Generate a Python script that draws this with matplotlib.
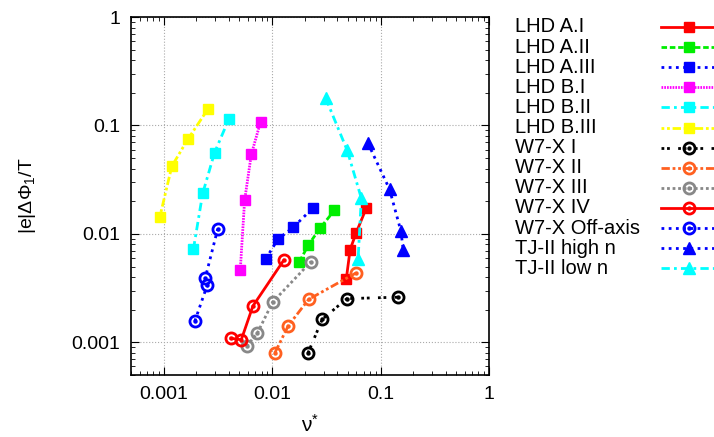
import numpy as np
import matplotlib

matplotlib.use("Agg")
import matplotlib.pyplot as plt
from matplotlib.lines import Line2D

plt.rcParams["font.family"] = ["Liberation Sans", "DejaVu Sans"]
plt.rcParams["mathtext.fontset"] = "custom"
plt.rcParams["mathtext.rm"] = "Liberation Sans"
plt.rcParams["mathtext.it"] = "Liberation Sans"

# values (nu*, |e|dPhi1/T)
lhd_a1_x = [0.0483, 0.0524, 0.0597, 0.0738]
lhd_a1_y = [0.00383, 0.00716, 0.01028, 0.01726]
lhd_a2_x = [0.01787, 0.0216, 0.0276, 0.0375]
lhd_a2_y = [0.00555, 0.00789, 0.01127, 0.01644]
lhd_a3_x = [0.00871, 0.01135, 0.01567, 0.0240]
lhd_a3_y = [0.00586, 0.00896, 0.0115, 0.0175]
lhd_b1_x = [0.00509, 0.00558, 0.00643, 0.00783]
lhd_b1_y = [0.00468, 0.0204, 0.054, 0.108]
lhd_b2_x = [0.00188, 0.00229, 0.00295, 0.0040]
lhd_b2_y = [0.0072, 0.0236, 0.0563, 0.115]
lhd_b3_x = [0.00092, 0.00119, 0.00168, 0.00256]
lhd_b3_y = [0.0142, 0.0421, 0.0752, 0.1414]
w7x_1_x = [0.0214, 0.0290, 0.0489, 0.1455]
w7x_1_y = [0.000795, 0.00163, 0.00253, 0.00261]
w7x_2_x = [0.01062, 0.0141, 0.0217, 0.0591]
w7x_2_y = [0.000802, 0.001423, 0.00249, 0.00435]
w7x_3_x = [0.00582, 0.00731, 0.01012, 0.02265]
w7x_3_y = [0.000922, 0.001216, 0.00235, 0.00550]
w7x_4_x = [0.00417, 0.0052, 0.00665, 0.01277]
w7x_4_y = [0.00109, 0.001057, 0.00216, 0.0057]
w7x_off_x = [0.00194, 0.00253, 0.00242, 0.00315]
w7x_off_y = [0.00157, 0.0034, 0.00392, 0.0111]
tj2_high_x = [0.0763, 0.121, 0.154, 0.162]
tj2_high_y = [0.069, 0.0258, 0.01063, 0.00706]
tj2_low_x = [0.0311, 0.0493, 0.0665, 0.0621]
tj2_low_y = [0.180, 0.0588, 0.0213, 0.00589]

labels = ["LHD A.I", "LHD A.II", "LHD A.III", "LHD B.I", "LHD B.II", "LHD B.III",
          "W7-X I", "W7-X II", "W7-X III", "W7-X IV", "W7-X Off-axis",
          "TJ-II high n", "TJ-II low n"]
xs = [lhd_a1_x, lhd_a2_x, lhd_a3_x, lhd_b1_x, lhd_b2_x, lhd_b3_x,
      w7x_1_x, w7x_2_x, w7x_3_x, w7x_4_x, w7x_off_x, tj2_high_x, tj2_low_x]
ys = [lhd_a1_y, lhd_a2_y, lhd_a3_y, lhd_b1_y, lhd_b2_y, lhd_b3_y,
      w7x_1_y, w7x_2_y, w7x_3_y, w7x_4_y, w7x_off_y, tj2_high_y, tj2_low_y]

dotted = (0, (1, 1.6))
dashdot = (0, (3, 1.5, 1, 1.5))
styles = [
    ("#ff0000", "-", "s"),
    ("#00ee00", (0, (2, 1)), "s"),
    ("#0000ff", dotted, "s"),
    ("#ff00ff", (0, (0.6, 0.4)), "s"),
    ("#00ffff", dashdot, "s"),
    ("#ffff00", (0, (1, 1, 1, 1, 3, 1)), "s"),
    ("#000000", (0, (1, 1, 1, 3)), "o"),
    ("#ff6020", (0, (3, 1, 1, 1, 1, 1)), "o"),
    ("#888888", (0, (1, 1)), "o"),
    ("#ff0000", "-", "o"),
    ("#0000ff", dotted, "o"),
    ("#0000ff", dotted, "^"),
    ("#00ffff", dashdot, "^"),
]


def marker_kw(color, mk):
    if mk == "o":
        return dict(marker="o", ms=8, mfc="none", mec=color, mew=2)
    return dict(marker=mk, ms=7 if mk == "s" else 9, mfc=color, mec=color)


fig = plt.figure(figsize=(7.14, 4.37), dpi=100)
ax = fig.add_axes([131 / 714, 1 - 375 / 437, 358 / 714, 358 / 437])

for x, y, (color, ls, mk) in zip(xs, ys, styles):
    ax.plot(x, y, color=color, ls=ls, lw=2, clip_on=False, **marker_kw(color, mk))
    if mk == "o":
        ax.plot(x, y, ls="none", marker="o", ms=2.2, color=color, clip_on=False)

ax.set_xscale("log")
ax.set_yscale("log")
ax.set_xlim(0.0005, 1)
ax.set_ylim(0.0005, 1)
ax.set_xticks([0.001, 0.01, 0.1, 1])
ax.set_xticklabels(["0.001", "0.01", "0.1", "1"])
ax.set_yticks([0.001, 0.01, 0.1, 1])
ax.set_yticklabels(["0.001", "0.01", "0.1", "1"])
ax.tick_params(which="both", direction="in", top=True, right=True, labelsize=14)
ax.tick_params(which="major", length=6, pad=8)
ax.tick_params(which="minor", length=3)
ax.grid(True, which="major", ls=":", color="#aaaaaa", lw=0.8)
for s in ax.spines.values():
    s.set_linewidth(1.2)
ax.set_xlabel(r"$\mathrm{\nu}^{*}$", fontsize=15, labelpad=8)
ax.set_ylabel(r"|e|$\Delta\Phi_1$/T", fontsize=14, labelpad=24)

# legend drawn by hand: left-aligned labels, line samples to the right
W, H = 714.0, 437.0
for i, (lab, (color, ls, mk)) in enumerate(zip(labels, styles)):
    yy = 1 - (27 + 20.1 * i) / H
    fig.text(515 / W, yy, lab, fontsize=14.5, va="center", ha="left")
    lx = [661 / W, 689 / W, 720 / W]
    fig.add_artist(Line2D(lx, [yy] * 3, color=color, ls=ls, lw=2, markevery=[1],
                          transform=fig.transFigure, **marker_kw(color, mk)))
    if mk == "o":
        fig.add_artist(Line2D([689 / W], [yy], ls="none", marker="o", ms=2.2,
                              color=color, transform=fig.transFigure))

fig.savefig("out.png", dpi=100)
